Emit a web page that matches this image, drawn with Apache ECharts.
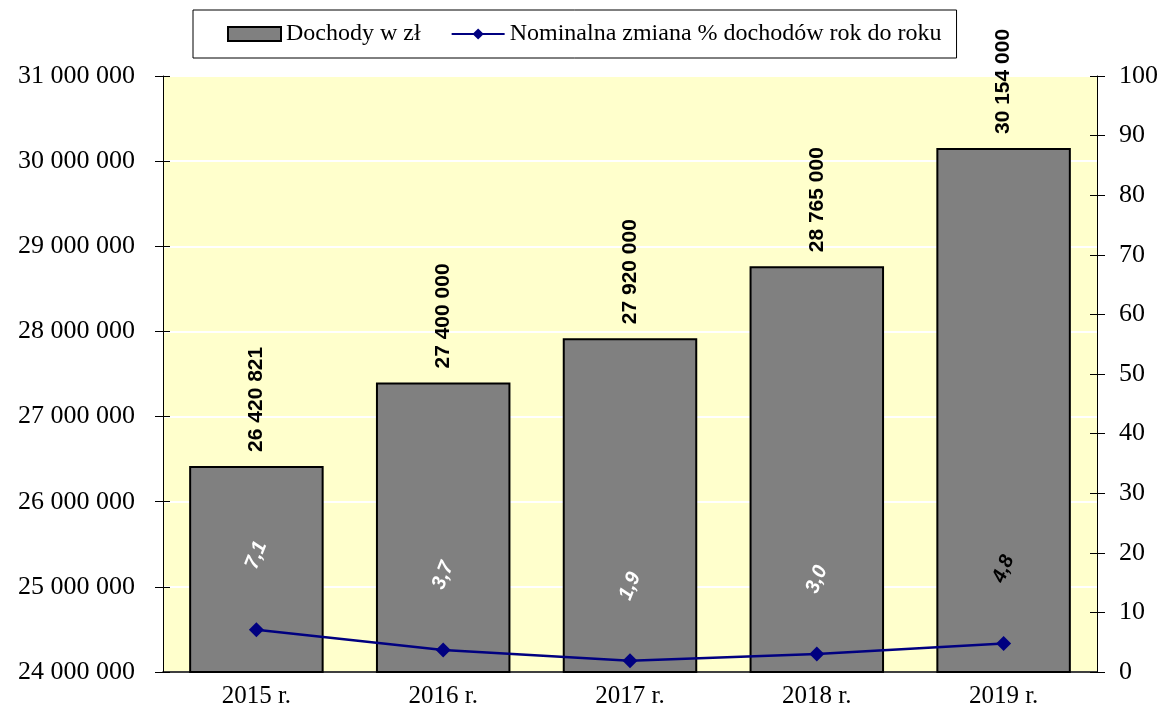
<!DOCTYPE html>
<html lang="pl">
<head>
    <meta charset="UTF-8">
    <title>Dochody</title>
    <script src="https://cdn.jsdelivr.net/npm/echarts@6.0.0/dist/echarts.min.js"></script>
    <style>
        html, body { margin: 0; padding: 0; background: #fff; }
        #main { width: 1168px; height: 716px; }
    </style>
</head>
<body>
    <div id="main"></div>
    <script>
        // dane z wykresu
        var years = ['2015 r.', '2016 r.', '2017 r.', '2018 r.', '2019 r.'];
        var income = [26420821, 27400000, 27920000, 28765000, 30154000];
        var changePct = [7.1, 3.7, 1.9, 3.0, 4.8];
        var incomeName = 'Dochody w zł';
        var changeName = 'Nominalna zmiana % dochodów rok do roku';

        function spaced(v) {
            return String(Math.round(v)).replace(/\B(?=(\d{3})+(?!\d))/g, ' ');
        }

        var serif = '"Liberation Serif", "Times New Roman", serif';
        var sans = '"Liberation Sans", Arial, sans-serif';

        // os pomocnicza - tylko kreski skierowane do srodka
        function innerTicks(min, max, interval, pos) {
            return {
                type: 'value', min: min, max: max, interval: interval, position: pos,
                axisLine: { show: false },
                axisTick: { show: true, inside: true, length: 7, lineStyle: { color: '#000' } },
                axisLabel: { show: false },
                splitLine: { show: false }
            };
        }

        var myChart = echarts.init(document.getElementById('main'));
        var option = {
            animation: false,
            legend: {
                left: 193,
                top: 10,
                padding: [12, 15, 12, 34],
                itemGap: 30,
                itemWidth: 53,
                itemHeight: 14,
                borderColor: '#000',
                borderWidth: 1,
                textStyle: { fontFamily: serif, fontSize: 24, color: '#000' },
                data: [{ name: incomeName, icon: 'rect' }, { name: changeName }]
            },
            grid: {
                left: 163, right: 71, top: 76, bottom: 44,
                show: true,
                backgroundColor: '#FFFFCC',
                borderWidth: 0
            },
            xAxis: {
                type: 'category',
                data: years,
                axisLine: { lineStyle: { color: '#000', width: 1.5 } },
                axisTick: { length: 9, lineStyle: { color: '#000' } },
                axisLabel: { fontFamily: serif, fontSize: 25, color: '#000', margin: 12 }
            },
            yAxis: [{
                type: 'value',
                min: 24000000,
                max: 31000000,
                interval: 1000000,
                axisLine: { show: true, lineStyle: { color: '#000' } },
                axisTick: { show: true, length: 8, lineStyle: { color: '#000' } },
                axisLabel: { fontFamily: serif, fontSize: 26, color: '#000', margin: 28, formatter: spaced },
                splitLine: { show: true, lineStyle: { color: '#fff', width: 2 } }
            }, {
                type: 'value',
                min: 0,
                max: 100,
                interval: 10,
                position: 'right',
                axisLine: { show: true, lineStyle: { color: '#000' } },
                axisTick: { show: true, length: 8, lineStyle: { color: '#000' } },
                axisLabel: { fontFamily: serif, fontSize: 26, color: '#000', margin: 22 },
                splitLine: { show: false }
            },
                innerTicks(24000000, 31000000, 1000000, 'left'),
                innerTicks(0, 100, 10, 'right')
            ],
            series: [{
                name: incomeName,
                type: 'bar',
                data: income,
                barWidth: '72%',
                itemStyle: { color: '#808080', borderColor: '#000', borderWidth: 2 },
                label: {
                    show: true,
                    position: 'top',
                    rotate: 90,
                    align: 'left',
                    verticalAlign: 'middle',
                    distance: 14,
                    fontFamily: sans,
                    fontWeight: 'bold',
                    fontSize: 21,
                    color: '#000',
                    formatter: function (p) { return spaced(p.value); }
                }
            }, {
                name: changeName,
                type: 'line',
                yAxisIndex: 1,
                z: 5,
                data: changePct.map(function (v, i) {
                    return { value: v, label: { color: i === changePct.length - 1 ? '#000' : '#fff' } };
                }),
                symbol: 'diamond',
                symbolSize: 15,
                lineStyle: { color: '#000080', width: 2.5 },
                itemStyle: { color: '#000080' },
                label: {
                    show: true,
                    position: 'top',
                    rotate: 68,
                    align: 'center',
                    verticalAlign: 'middle',
                    distance: 67,
                    fontFamily: sans,
                    fontWeight: 'bold',
                    fontStyle: 'italic',
                    fontSize: 20,
                    formatter: function (p) { return p.value.toFixed(1).replace('.', ','); }
                }
            }]
        };
        myChart.setOption(option);
    </script>
</body>
</html>
